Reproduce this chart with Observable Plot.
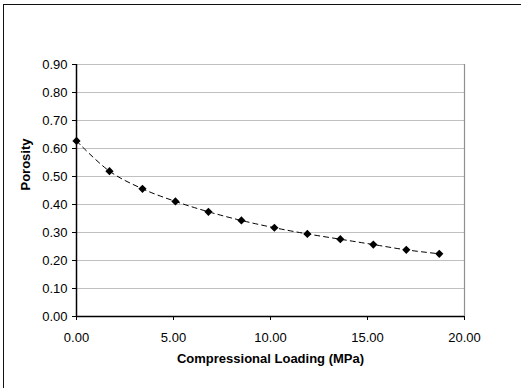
<!DOCTYPE html>
<html>
<head>
<meta charset="utf-8">
<script src="https://cdn.jsdelivr.net/npm/d3@7"></script>
<script src="https://cdn.jsdelivr.net/npm/@observablehq/plot@0.6"></script>
<style>
  html, body { margin: 0; padding: 0; background: #fff; overflow: hidden; }
  #wrap { position: relative; width: 521px; height: 388px; }
  #border { position: absolute; left: 3px; top: 4px; width: 700px; height: 600px;
            border-left: 1.5px solid #111; border-top: 1.5px solid #111; box-sizing: border-box; }
  #chart { position: absolute; left: 0; top: 0; }
</style>
</head>
<body>
<div id="wrap"><div id="border"></div><div id="chart"></div></div>
<script>
const loading = [0, 1.7, 3.4, 5.1, 6.8, 8.5, 10.2, 11.9, 13.6, 15.3, 17.0, 18.7];
const porosity = [0.627, 0.519, 0.456, 0.411, 0.374, 0.343, 0.317, 0.295, 0.276, 0.257, 0.238, 0.224];
const xTicks = [0, 5, 10, 15, 20];
const yTicks = [0, 0.1, 0.2, 0.3, 0.4, 0.5, 0.6, 0.7, 0.8, 0.9];
const xLabel = "Compressional Loading (MPa)";
const yLabel = "Porosity";

const data = loading.map((x, i) => ({x, y: porosity[i]}));
const fmt = d3.format(".2f");

const plot = Plot.plot({
  width: 521,
  height: 388,
  marginLeft: 76,
  marginRight: 57,
  marginTop: 64,
  marginBottom: 72,
  style: {fontFamily: "'Liberation Sans', Arial, sans-serif", fontSize: "13px", color: "#000", background: "transparent"},
  x: {domain: [0, 20]},
  y: {domain: [0, 0.9]},
  marks: [
    Plot.ruleY(yTicks.filter(d => d > 0), {y: d => d, stroke: "#c0c0c0", strokeWidth: 1}),
    Plot.ruleX([20], {x: d => d, stroke: "#909090", strokeWidth: 1.2}),
    Plot.axisY(yTicks, {tickFormat: fmt, tickSize: 4, tickPadding: 5, stroke: "#000", label: null, fontSize: 13}),
    Plot.axisX(xTicks, {tickFormat: fmt, tickSize: 4, tickPadding: 12, stroke: "#000", label: null, fontSize: 13}),
    Plot.ruleX([0], {x: d => d, stroke: "#000", strokeWidth: 1.5}),
    Plot.ruleY([0], {y: d => d, stroke: "#000", strokeWidth: 1.5}),
    Plot.line(data, {x: "x", y: "y", stroke: "#000", strokeWidth: 1, strokeDasharray: "5,4", curve: "catmull-rom"}),
    Plot.dot(data, {x: "x", y: "y", symbol: "diamond2", r: 3.7, fill: "#000", stroke: "none"}),
    Plot.text([xLabel], {frameAnchor: "bottom", dy: 46, text: d => d, fontWeight: "bold", fontSize: 13}),
    Plot.text([yLabel], {frameAnchor: "left", dx: -51, rotate: -90, text: d => d, fontWeight: "bold", fontSize: 13})
  ]
});
document.getElementById("chart").appendChild(plot);
</script>
</body>
</html>
